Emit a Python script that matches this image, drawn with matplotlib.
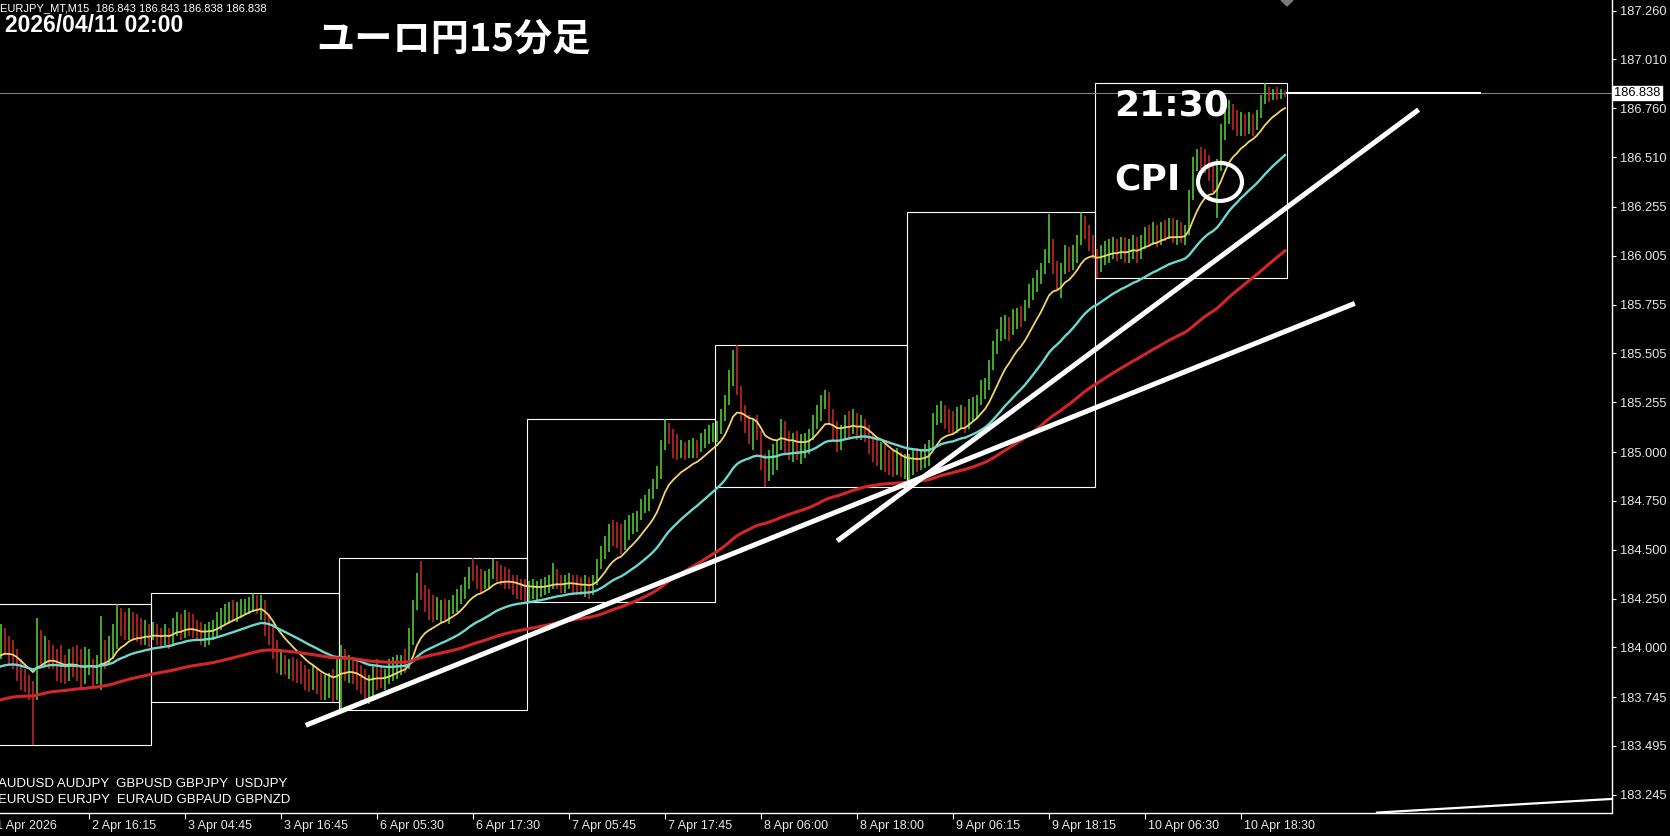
import numpy as np
import pandas as pd
import matplotlib
matplotlib.use("Agg")
import matplotlib.pyplot as plt
import matplotlib.transforms as mtransforms
from matplotlib.patches import Rectangle, Ellipse, Polygon

plt.rcParams['font.family'] = ['Liberation Sans', 'DejaVu Sans']

# EURJPY, bars (one value per 30 minutes)
days = ["2 Apr", "3 Apr", "6 Apr", "7 Apr", "8 Apr", "9 Apr", "10 Apr"]
bars_per_day = [39, 47, 47, 47, 48, 47, 48]
first_open = 184.03

closes = [
    # 2 Apr
    183.99, 184.04, 184.01, 183.96, 183.94, 183.87, 183.82, 183.79, 183.78, 183.76, 184.04, 183.96, 184.01,
    183.99, 183.94, 183.89, 183.87, 183.86, 183.93, 183.91, 183.89, 183.86, 183.89, 183.93, 183.89, 183.89,
    183.99, 183.95, 184.01, 184.04, 184.17, 184.12, 184.09, 184.14, 184.10, 184.08, 184.06, 184.09, 184.06,
    # 3 Apr
    184.09, 184.06, 184.04, 184.08, 184.04, 184.12, 184.14, 184.10, 184.14, 184.12, 184.09, 184.06, 184.04,
    184.08, 184.09, 184.10, 184.15, 184.17, 184.18, 184.20, 184.19, 184.21, 184.22, 184.23, 184.24, 184.24,
    184.22, 184.23, 184.10, 184.04, 183.96, 183.89, 183.91, 183.89, 183.89, 183.87, 183.86, 183.84, 183.82,
    183.81, 183.83, 183.80, 183.78, 183.79, 183.81, 183.78, 183.89,
    # 6 Apr
    183.94, 183.89, 183.91, 183.86, 183.83, 183.79, 183.76, 183.78, 183.87, 183.86, 183.84, 183.86, 183.89,
    183.91, 183.93, 183.94, 183.93, 184.04, 184.22, 184.36, 184.27, 184.22, 184.18, 184.17, 184.19, 184.20,
    184.18, 184.22, 184.24, 184.25, 184.30, 184.34, 184.39, 184.37, 184.35, 184.32, 184.36, 184.37, 184.42,
    184.40, 184.36, 184.35, 184.34, 184.32, 184.30, 184.28, 184.27,
    # 7 Apr
    184.30, 184.30, 184.30, 184.31, 184.32, 184.34, 184.35, 184.34, 184.32, 184.34, 184.35, 184.32, 184.31,
    184.30, 184.32, 184.30, 184.35, 184.42, 184.50, 184.54, 184.60, 184.58, 184.55, 184.52, 184.61, 184.64,
    184.65, 184.68, 184.73, 184.76, 184.78, 184.83, 184.91, 185.04, 185.11, 185.06, 185.00, 184.99, 185.02,
    184.99, 185.01, 185.03, 185.01, 185.06, 185.09, 185.11, 185.12,
    # 8 Apr
    185.14, 185.19, 185.27, 185.40, 185.47, 185.33, 185.19, 185.12, 185.09, 185.14, 185.07, 184.93, 184.86,
    184.99, 185.01, 185.04, 185.14, 185.04, 185.02, 185.06, 185.01, 185.04, 185.05, 185.09, 185.16, 185.22,
    185.27, 185.29, 185.16, 185.09, 185.04, 185.11, 185.16, 185.14, 185.17, 185.10, 185.14, 185.09, 185.02,
    184.99, 184.96, 185.01, 184.93, 184.92, 184.91, 184.93, 184.90, 184.91,
    # 9 Apr
    184.93, 184.96, 184.95, 184.97, 185.00, 185.04, 185.17, 185.22, 185.23, 185.16, 185.14, 185.12, 185.19,
    185.21, 185.14, 185.24, 185.26, 185.27, 185.34, 185.36, 185.45, 185.55, 185.60, 185.65, 185.67, 185.63,
    185.69, 185.70, 185.68, 185.75, 185.83, 185.86, 185.91, 185.93, 186.01, 186.06, 185.94, 185.87, 185.93,
    186.02, 185.96, 186.04, 186.09, 186.16, 186.13, 186.06, 186.04,
    # 10 Apr
    185.94, 186.02, 186.04, 186.05, 186.06, 186.02, 186.06, 186.01, 186.05, 186.08, 186.01, 186.09, 186.11,
    186.10, 186.14, 186.09, 186.15, 186.13, 186.16, 186.10, 186.11, 186.10, 186.13, 186.32, 186.49, 186.52,
    186.50, 186.47, 186.42, 186.35, 186.47, 186.65, 186.74, 186.75, 186.68, 186.65, 186.70, 186.66, 186.71,
    186.68, 186.73, 186.80, 186.84, 186.83, 186.84, 186.82, 186.85, 186.838,
]

highs = [
    # 2 Apr
    184.09, 184.12, 184.10, 184.06, 184.04, 183.99, 183.94, 183.89, 183.86, 183.83, 184.15, 184.09, 184.06,
    184.04, 184.01, 183.99, 184.01, 183.96, 183.99, 184.00, 184.01, 183.99, 184.00, 183.99, 183.94, 183.96,
    184.16, 184.04, 184.06, 184.12, 184.22, 184.20, 184.18, 184.20, 184.18, 184.17, 184.15, 184.14, 184.12,
    # 3 Apr
    184.13, 184.12, 184.10, 184.12, 184.10, 184.15, 184.18, 184.17, 184.19, 184.18, 184.17, 184.14, 184.13,
    184.12, 184.13, 184.14, 184.18, 184.20, 184.22, 184.23, 184.24, 184.23, 184.25, 184.25, 184.26, 184.28,
    184.27, 184.27, 184.24, 184.17, 184.12, 184.04, 183.99, 183.96, 183.94, 183.95, 183.94, 183.93, 183.91,
    183.89, 183.91, 183.89, 183.87, 183.86, 183.87, 183.89, 183.94,
    # 6 Apr
    184.01, 183.99, 183.96, 183.95, 183.94, 183.91, 183.89, 183.86, 183.91, 183.94, 183.91, 183.89, 183.94,
    183.95, 183.96, 183.96, 183.99, 184.10, 184.24, 184.38, 184.44, 184.32, 184.30, 184.27, 184.26, 184.24,
    184.25, 184.24, 184.27, 184.30, 184.32, 184.36, 184.41, 184.46, 184.42, 184.40, 184.39, 184.40, 184.45,
    184.44, 184.42, 184.41, 184.40, 184.37, 184.37, 184.35, 184.35,
    # 7 Apr
    184.34, 184.35, 184.34, 184.35, 184.36, 184.37, 184.43, 184.40, 184.37, 184.37, 184.38, 184.37, 184.37,
    184.36, 184.37, 184.36, 184.37, 184.45, 184.52, 184.57, 184.63, 184.65, 184.64, 184.63, 184.65, 184.68,
    184.69, 184.70, 184.76, 184.78, 184.81, 184.86, 184.93, 185.06, 185.17, 185.15, 185.12, 185.09, 185.06,
    185.05, 185.06, 185.07, 185.06, 185.10, 185.12, 185.14, 185.15,
    # 8 Apr
    185.16, 185.22, 185.29, 185.42, 185.52, 185.55, 185.34, 185.24, 185.19, 185.17, 185.19, 185.11, 184.99,
    185.01, 185.04, 185.06, 185.17, 185.16, 185.11, 185.10, 185.11, 185.09, 185.10, 185.12, 185.19, 185.24,
    185.29, 185.32, 185.31, 185.22, 185.16, 185.14, 185.19, 185.21, 185.22, 185.20, 185.19, 185.17, 185.14,
    185.09, 185.06, 185.05, 185.04, 185.01, 185.01, 185.02, 185.00, 184.99,
    # 9 Apr
    184.99, 185.01, 185.02, 185.01, 185.04, 185.06, 185.20, 185.24, 185.26, 185.24, 185.22, 185.21, 185.23,
    185.24, 185.23, 185.27, 185.28, 185.29, 185.37, 185.38, 185.47, 185.57, 185.63, 185.69, 185.70, 185.69,
    185.73, 185.74, 185.75, 185.78, 185.86, 185.89, 185.93, 185.97, 186.04, 186.22, 186.09, 185.98, 185.97,
    186.06, 186.05, 186.06, 186.11, 186.23, 186.21, 186.16, 186.11,
    # 10 Apr
    186.04, 186.06, 186.08, 186.09, 186.10, 186.09, 186.10, 186.10, 186.09, 186.11, 186.10, 186.11, 186.15,
    186.16, 186.18, 186.16, 186.18, 186.19, 186.20, 186.20, 186.19, 186.18, 186.16, 186.34, 186.51, 186.55,
    186.56, 186.55, 186.52, 186.47, 186.50, 186.68, 186.76, 186.80, 186.78, 186.75, 186.74, 186.73, 186.74,
    186.73, 186.75, 186.83, 186.89, 186.87, 186.86, 186.87, 186.86, 186.85,
]

lows = [
    # 2 Apr
    183.94, 183.94, 183.96, 183.91, 183.89, 183.83, 183.78, 183.77, 183.73, 183.50, 183.73, 183.91, 183.91,
    183.89, 183.89, 183.83, 183.82, 183.81, 183.83, 183.85, 183.83, 183.78, 183.81, 183.86, 183.79, 183.81,
    183.78, 183.89, 183.91, 183.94, 183.99, 184.06, 184.04, 184.04, 184.04, 184.03, 184.01, 184.01, 184.00,
    # 3 Apr
    184.04, 184.01, 184.00, 184.01, 183.99, 184.01, 184.06, 184.04, 184.05, 184.06, 184.05, 184.04, 184.01,
    184.00, 184.01, 184.04, 184.06, 184.09, 184.12, 184.12, 184.14, 184.13, 184.15, 184.17, 184.17, 184.18,
    184.17, 184.14, 184.06, 184.01, 183.94, 183.87, 183.86, 183.86, 183.84, 183.83, 183.82, 183.81, 183.78,
    183.77, 183.78, 183.76, 183.73, 183.73, 183.74, 183.72, 183.73,
    # 6 Apr
    183.68, 183.83, 183.82, 183.81, 183.78, 183.76, 183.73, 183.71, 183.73, 183.78, 183.79, 183.78, 183.81,
    183.83, 183.84, 183.86, 183.87, 183.89, 184.01, 184.19, 184.24, 184.18, 184.14, 184.13, 184.14, 184.13,
    184.14, 184.12, 184.17, 184.18, 184.22, 184.25, 184.30, 184.34, 184.30, 184.28, 184.30, 184.30, 184.35,
    184.34, 184.32, 184.30, 184.30, 184.27, 184.25, 184.24, 184.22,
    # 7 Apr
    184.23, 184.25, 184.24, 184.26, 184.27, 184.28, 184.30, 184.30, 184.28, 184.28, 184.30, 184.28, 184.27,
    184.27, 184.26, 184.25, 184.27, 184.32, 184.40, 184.45, 184.49, 184.52, 184.51, 184.48, 184.50, 184.55,
    184.58, 184.59, 184.65, 184.69, 184.70, 184.76, 184.81, 184.86, 185.01, 185.04, 184.97, 184.96, 184.97,
    184.96, 184.97, 184.97, 184.97, 185.00, 185.02, 185.04, 185.05,
    # 8 Apr
    185.05, 185.09, 185.16, 185.24, 185.34, 185.29, 185.16, 185.10, 185.04, 185.01, 185.06, 184.91, 184.82,
    184.85, 184.88, 184.91, 185.01, 184.99, 184.96, 184.95, 184.96, 184.94, 184.97, 184.99, 185.06, 185.12,
    185.16, 185.22, 185.14, 185.06, 185.00, 185.01, 185.06, 185.07, 185.09, 185.06, 185.06, 185.05, 184.99,
    184.95, 184.93, 184.91, 184.90, 184.88, 184.87, 184.88, 184.87, 184.86,
    # 9 Apr
    184.82, 184.88, 184.90, 184.91, 184.92, 184.93, 185.01, 185.14, 185.15, 185.12, 185.10, 185.09, 185.10,
    185.12, 185.10, 185.12, 185.16, 185.17, 185.24, 185.27, 185.32, 185.42, 185.50, 185.57, 185.58, 185.57,
    185.60, 185.63, 185.64, 185.67, 185.74, 185.78, 185.82, 185.86, 185.91, 185.97, 185.91, 185.83, 185.79,
    185.91, 185.92, 185.93, 185.97, 186.06, 186.09, 186.03, 185.99,
    # 10 Apr
    185.89, 185.92, 185.96, 185.97, 185.99, 185.98, 185.99, 185.97, 185.97, 185.99, 185.97, 185.99, 186.04,
    186.05, 186.06, 186.05, 186.06, 186.08, 186.09, 186.07, 186.06, 186.07, 186.06, 186.11, 186.29, 186.44,
    186.45, 186.43, 186.39, 186.33, 186.20, 186.44, 186.60, 186.68, 186.65, 186.62, 186.62, 186.62, 186.63,
    186.62, 186.65, 186.71, 186.78, 186.79, 186.80, 186.80, 186.81, 186.82,
]

# moving averages (periods in 30 minute bars) and their level at the left edge
ma_periods = [13, 37, 100]
ma_start = [183.94, 183.89, 183.72]

price_ticks = [187.260, 187.010, 186.760, 186.510, 186.255, 186.005, 185.755, 185.505, 185.255,
               185.000, 184.750, 184.500, 184.250, 184.000, 183.745, 183.495, 183.245]
time_labels = ["1 Apr 2026", "2 Apr 16:15", "3 Apr 04:45", "3 Apr 16:45", "6 Apr 05:30", "6 Apr 17:30",
               "7 Apr 05:45", "7 Apr 17:45", "8 Apr 06:00", "8 Apr 18:00", "9 Apr 06:15", "9 Apr 18:15",
               "10 Apr 06:30", "10 Apr 18:30"]

# hand drawn lines: (start bar, start price, end bar, end price), bars counted in 15 minute steps
trend_lines = [(152.9, 183.601, 677.4, 185.761),
               (418.6, 184.545, 709.3, 186.753)]
bottom_line = (688.5, 183.154, 806.0, 183.224)
cpi_mark = (610.0, 186.383)

header = "EURJPY_MT,M15  186.843 186.843 186.838 186.838"
symbols = ["AUDUSD AUDJPY  GBPUSD GBPJPY  USDJPY", "EURUSD EURJPY  EURAUD GBPAUD GBPNZD"]

# ---------------------------------------------------------------------------
closes = np.array(closes)
highs = np.array(highs)
lows = np.array(lows)
opens = np.r_[first_open, closes[:-1]]
n = len(closes)
x = -1.5 + 2 * np.arange(n)

W, H = 1670, 836
fig = plt.figure(figsize=(W / 100, H / 100), dpi=100, facecolor='black')
ax = fig.add_axes([0, 23.4 / H, 1611.5 / W, 812.6 / H])
ax.set_facecolor('black')

for side in ['left', 'top']:
    ax.spines[side].set_visible(False)
for side in ['right', 'bottom']:
    ax.spines[side].set_color('white')
    ax.spines[side].set_linewidth(1.0)

# day boxes (daily high / low)
edges = np.r_[0, np.cumsum(bars_per_day)]
for d in range(len(days)):
    s, e = edges[d], edges[d + 1]
    lo, hi = lows[s:e].min(), highs[s:e].max()
    ax.add_patch(Rectangle((x[s] - 1, lo), x[e - 1] - x[s] + 2, hi - lo,
                           fill=False, ec='white', lw=0.8, zorder=1))

# bars
up = closes >= opens
cols = np.where(up, '#55d838', '#d02a2a')
ax.vlines(x, lows, highs, colors=cols, lw=1.1, zorder=2)

# moving averages
ma_colors = ['#f3d468', '#6ed8d0', '#d42626']
ma_widths = [1.3, 1.7, 2.2]
for per, st, c, w in zip(ma_periods, ma_start, ma_colors, ma_widths):
    s = pd.Series(np.r_[st, closes])
    ema = s.ewm(span=per, adjust=False).mean().values[1:]
    ax.plot(x, ema, color=c, lw=w, zorder=3)

# trend lines
for x1, y1, x2, y2 in trend_lines:
    ax.plot([x1, x2], [y1, y2], color='white', lw=3.6, solid_capstyle='butt', zorder=4)
bx1, by1, bx2, by2 = bottom_line
ax.plot([bx1, bx2], [by1, by2], color='white', lw=1.6, zorder=4, clip_on=False)

ax.add_patch(Ellipse(cpi_mark, 22, 0.195, fill=False, ec='white', lw=3.0, zorder=5))

# current price
last = closes[-1]
ax.axhline(last, color='#8a8a8a', lw=0.7, zorder=1)
ax.plot([x[-1] + 1, x[-1] + 97.5], [last, last], color='white', lw=1.5, zorder=4)

trans_ax = mtransforms.blended_transform_factory(ax.transData, ax.transAxes)
ax.add_patch(Polygon([(x[-1] - 2, 1.0), (x[-1] + 4, 1.0), (x[-1] + 1, 1 - 6 / 812.6)],
                     closed=True, color='#7c7c7c', transform=trans_ax, clip_on=False))

# price axis
ax.yaxis.tick_right()
ax.set_yticks(price_ticks)
ax.set_yticklabels(['%.3f' % v for v in price_ticks])
ax.tick_params(axis='y', direction='out', length=3, width=0.8, color='white',
               labelcolor='#e8e8e8', labelsize=9.3, pad=3)
trans_y = mtransforms.blended_transform_factory(ax.transAxes, ax.transData)
ax.text(1.0018, last, '%.3f' % last, transform=trans_y, ha='left', va='center',
        fontsize=9.3, color='black',
        bbox=dict(boxstyle='square,pad=0.1', fc='white', ec='white'))

# time axis
tick_x = -3.5 + 48 * np.arange(len(time_labels))
ax.set_xticks(tick_x)
ax.set_xticklabels([])
ax.tick_params(axis='x', direction='out', length=4, width=0.8, color='white')

# limits last, so the tick positions do not widen them
ax.set_xlim(0, 805.75)
ax.set_ylim(183.154, 187.3145)

for tx, lab in zip(tick_x, time_labels):
    ax.text(tx + 1.5, -7 / 812.6, lab, transform=trans_ax, ha='left', va='top',
            fontsize=9, color='#e8e8e8', clip_on=False)


def fx(px):
    return px / W


def fy(py):
    return 1 - py / H


fig.text(fx(0), fy(8), header, fontsize=8, color='white', va='center')
fig.text(fx(5), fy(26), "2026/04/11 02:00", fontsize=16.5, fontweight='bold', color='white', va='center')
fig.text(fx(316), fy(39), "ユーロ円15分足", fontsize=27.5, fontweight='bold', color='white', va='center',
         family=['Noto Sans CJK JP', 'DejaVu Sans'])
fig.text(fx(1114), fy(115), "21:30", fontsize=26, fontweight='bold', color='white', va='baseline',
         family=['DejaVu Sans'])
fig.text(fx(1114), fy(189), "CPI", fontsize=26, fontweight='bold', color='white', va='baseline',
         family=['DejaVu Sans'])
fig.text(fx(-1.5), fy(784), symbols[0], fontsize=9.5, color='white', va='center')
fig.text(fx(-1.5), fy(800), symbols[1], fontsize=9.5, color='white', va='center')

fig.savefig('out.png', dpi=100, facecolor='black')
